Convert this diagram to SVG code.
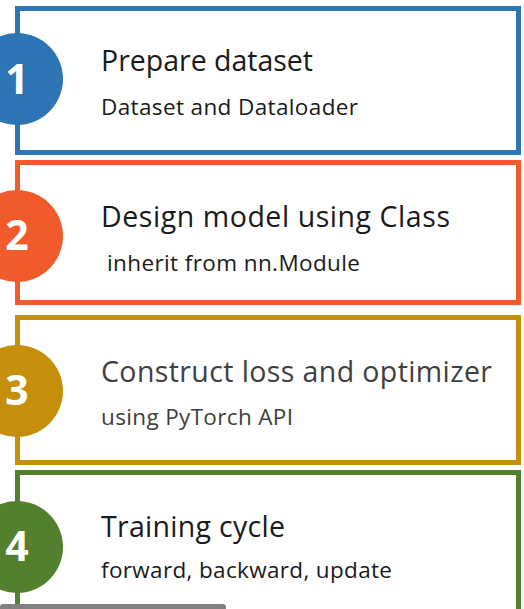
<svg xmlns="http://www.w3.org/2000/svg" width="524" height="609" viewBox="0 0 524 609">
<style>
.box{fill:#ffffff;stroke-width:5}
.num{font-family:"Open Sans","Liberation Sans",sans-serif;font-weight:bold;font-size:41px;fill:#ffffff;text-anchor:middle}
.title{font-family:"Open Sans","Noto Sans","Liberation Sans",sans-serif;font-size:28.5px;fill:#1a1a1a}
.sub{font-family:"Open Sans","Noto Sans","Liberation Sans",sans-serif;font-size:22.5px;fill:#1a1a1a}
.gray{fill:#404040}
</style>
<rect x="0" y="0" width="524" height="609" fill="#ffffff"/>
<g id="step1">
<rect class="box" x="17.5" y="8.5" width="501" height="144" stroke="#2e75b6"/>
<circle cx="17" cy="79" r="46" fill="#2e75b6"/>
<text class="num" x="17" y="94">1</text>
<text class="title" x="101" y="71" textLength="212">Prepare dataset</text>
<text class="sub" x="101" y="115" textLength="257">Dataset and Dataloader</text>
</g>
<g id="step2">
<rect class="box" x="17.5" y="162.5" width="501" height="140" stroke="#f15a2b"/>
<circle cx="17" cy="236" r="46" fill="#f15a2b"/>
<text class="num" x="17" y="250">2</text>
<text class="title" x="101" y="227" textLength="349">Design model using Class</text>
<text class="sub" x="107" y="271" textLength="253">inherit from nn.Module</text>
</g>
<g id="step3">
<rect class="box" x="17.5" y="317.5" width="501" height="145" stroke="#c58f0b"/>
<circle cx="17" cy="391" r="46" fill="#c58f0b"/>
<text class="num" x="17" y="405">3</text>
<text class="title gray" x="101" y="382" textLength="391">Construct loss and optimizer</text>
<text class="sub gray" x="101" y="425" textLength="192">using PyTorch API</text>
</g>
<g id="step4">
<rect class="box" x="17.5" y="472.5" width="501" height="160" stroke="#53802f"/>
<circle cx="17" cy="547" r="46" fill="#53802f"/>
<text class="num" x="17" y="561">4</text>
<text class="title" x="101" y="537" textLength="184">Training cycle</text>
<text class="sub" x="101" y="578" textLength="291">forward, backward, update</text>
</g>
<g id="connectors"></g>
<rect x="0" y="604" width="226" height="8" rx="3" fill="#808080"/>
</svg>
